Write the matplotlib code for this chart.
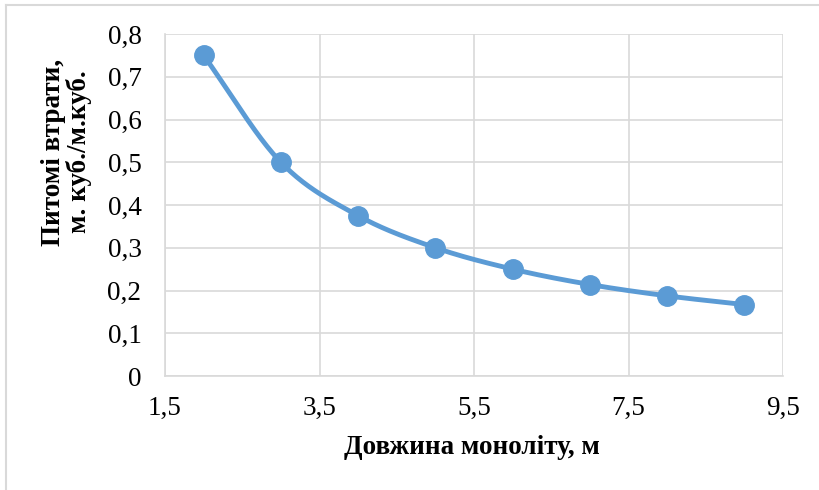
import numpy as np
import matplotlib
matplotlib.use("Agg")
import matplotlib.pyplot as plt
from matplotlib.ticker import FuncFormatter
from matplotlib.lines import Line2D

# Data
lengths = [2, 3, 4, 5, 6, 7, 8, 9]
losses = [0.75, 0.50, 0.375, 0.30, 0.25, 0.214, 0.1875, 0.167]
x_ticks = [1.5, 3.5, 5.5, 7.5, 9.5]
y_ticks = [0, 0.1, 0.2, 0.3, 0.4, 0.5, 0.6, 0.7, 0.8]
x_label = "Довжина моноліту, м"
y_label = "Питомі втрати,\nм. куб./м.куб."

plt.rcParams['font.family'] = ['Liberation Serif', 'DejaVu Serif']

def smooth(xs, ys, n=40):
    xs = np.asarray(xs, float); ys = np.asarray(ys, float)
    px = np.concatenate([[2*xs[0]-xs[1]], xs, [2*xs[-1]-xs[-2]]])
    py = np.concatenate([[2*ys[0]-ys[1]], ys, [2*ys[-1]-ys[-2]]])
    outx, outy = [], []
    t = np.linspace(0, 1, n)
    for i in range(1, len(px)-2):
        p0 = np.array([px[i-1], py[i-1]]); p1 = np.array([px[i], py[i]])
        p2 = np.array([px[i+1], py[i+1]]); p3 = np.array([px[i+2], py[i+2]])
        c1 = p1 + (p2 - p0) / 6
        c2 = p2 - (p3 - p1) / 6
        b = ((1-t)**3)[:, None]*p1 + (3*(1-t)**2*t)[:, None]*c1 + (3*(1-t)*t**2)[:, None]*c2 + (t**3)[:, None]*p2
        outx.extend(b[:, 0]); outy.extend(b[:, 1])
    return outx, outy

fig = plt.figure(figsize=(8.19, 4.9), dpi=100)
ax = fig.add_axes([165/819, 1-376/490, (783-165)/819, (376-34)/490])

color = '#5B9BD5'
sx, sy = smooth(lengths, losses)
ax.plot(sx, sy, color=color, lw=3.5, solid_capstyle='round', zorder=3)
ax.plot(lengths, losses, 'o', color=color, ms=14, zorder=4)

ax.set_xlim(1.5, 9.5)
ax.set_ylim(0, 0.8)
ax.set_xticks(x_ticks)
ax.set_yticks(y_ticks)
fmt = FuncFormatter(lambda v, p: ('%g' % round(v, 2)).replace('.', ','))
ax.xaxis.set_major_formatter(fmt)
ax.yaxis.set_major_formatter(fmt)
ax.tick_params(length=0, labelsize=19.5, colors='black')
ax.tick_params(axis='y', pad=17)
ax.tick_params(axis='x', pad=14)
ax.grid(True, color='#D9D9D9', lw=1.2)
for s in ['top', 'right']:
    ax.spines[s].set_visible(False)
for s in ['left', 'bottom']:
    ax.spines[s].set_color('#D9D9D9')
    ax.spines[s].set_linewidth(1.2)
ax.set_axisbelow(True)

fig.text(472/819, 1-447/490, x_label, fontsize=19.5, fontweight='bold', ha='center', va='center')
fig.text(66/819, 1-152/490, y_label, fontsize=19.5, fontweight='bold', ha='center', va='center',
         rotation=90, multialignment='center', linespacing=1.0)

# outer border
fig.add_artist(Line2D([6/819, 6/819], [0, 1-5/490], transform=fig.transFigure, color='#D9D9D9', lw=1.5))
fig.add_artist(Line2D([6/819, 1], [1-5/490, 1-5/490], transform=fig.transFigure, color='#D9D9D9', lw=1.5))

fig.savefig('out.png', dpi=100)
